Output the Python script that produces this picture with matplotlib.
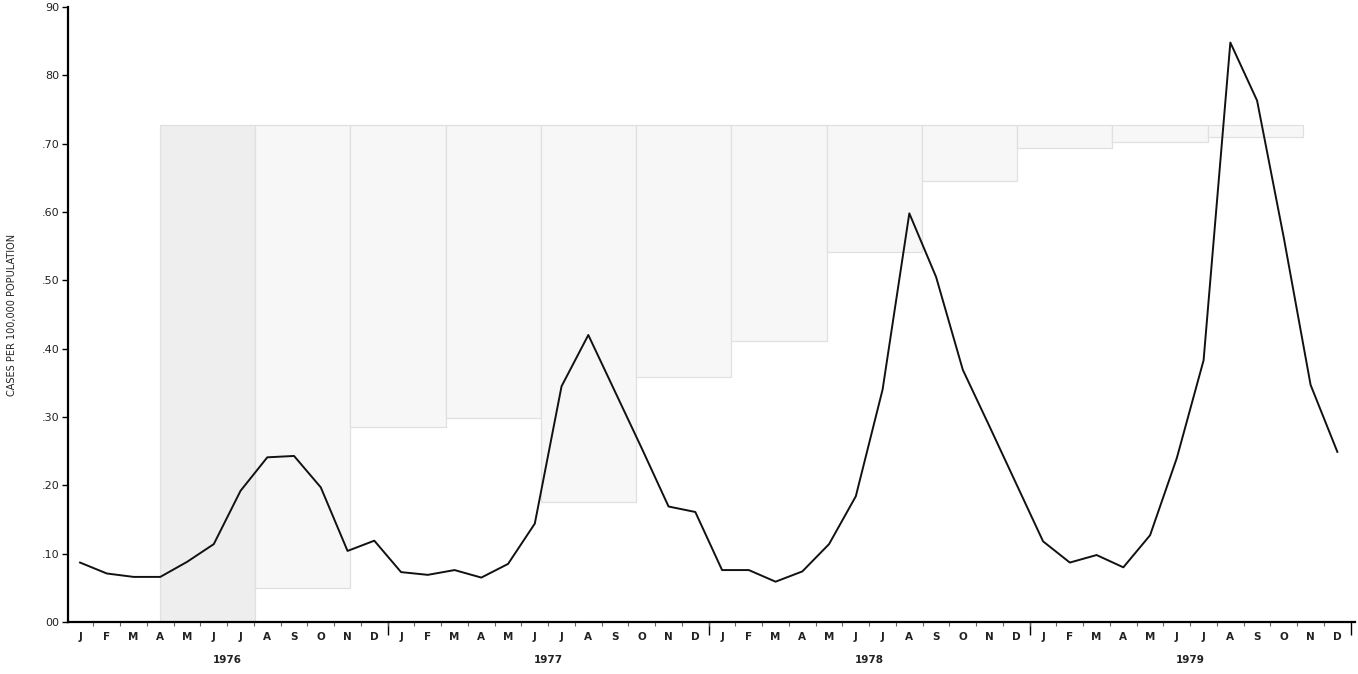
import matplotlib.pyplot as plt
import numpy as np

# Casos por 100.000 habitantes, por mes (1976-1979)
meses = ['J', 'F', 'M', 'A', 'M', 'J', 'J', 'A', 'S', 'O', 'N', 'D']
anos = ['1976', '1977', '1978', '1979']
casos_1976 = [0.087, 0.071, 0.066, 0.066, 0.088, 0.114, 0.192, 0.241, 0.243, 0.197, 0.104, 0.119]
casos_1977 = [0.073, 0.069, 0.076, 0.065, 0.085, 0.144, 0.345, 0.420, 0.337, 0.254, 0.169, 0.161]
casos_1978 = [0.076, 0.076, 0.059, 0.074, 0.114, 0.184, 0.340, 0.598, 0.505, 0.369, 0.286, 0.202]
casos_1979 = [0.118, 0.087, 0.098, 0.080, 0.127, 0.240, 0.383, 0.848, 0.763, 0.562, 0.347, 0.249]

# caixas apagadas que aparecem por transparencia do verso da pagina
fundo_inicio = 2.99
fundo_largura = 3.56
fundo_topo = 0.727
fundo_base = [0.0, 0.05, 0.285, 0.298, 0.175, 0.358, 0.411, 0.542, 0.645, 0.694, 0.703, 0.71]

y_ticks = [0, 0.1, 0.2, 0.3, 0.4, 0.5, 0.6, 0.7, 0.8, 0.9]
y_rotulos = ['00', '.10', '.20', '.30', '.40', '.50', '.60', '.70', '80', '90']

casos = casos_1976 + casos_1977 + casos_1978 + casos_1979
x = np.arange(len(casos))

fig = plt.figure(figsize=(13.58, 6.74), dpi=100)
ax = fig.add_axes([68 / 1358, 52 / 674, 1287 / 1358, 615 / 674])

# fundo (bem claro)
xs_fundo = fundo_inicio + fundo_largura * np.arange(len(fundo_base))
alturas = [fundo_topo - b for b in fundo_base]
cores = ['#eeeeee'] + ['#f7f7f7'] * (len(fundo_base) - 1)
ax.bar(xs_fundo, alturas, bottom=fundo_base, width=fundo_largura, align='edge',
       color=cores, edgecolor='#e0e0e0', linewidth=0.9, zorder=0)

ax.plot(x, casos, color='#111111', linewidth=1.4, zorder=3)

ax.set_xlim(-0.45, 47.66)
ax.set_ylim(0, 0.9)

ax.spines['top'].set_visible(False)
ax.spines['right'].set_visible(False)
ax.spines['left'].set_linewidth(1.6)
ax.spines['bottom'].set_linewidth(1.6)

ax.set_yticks(y_ticks)
ax.set_yticklabels(y_rotulos, fontsize=8, color='#222222')
ax.tick_params(axis='y', length=4, width=1, pad=2)

ax.set_xticks(x)
ax.set_xticklabels(meses * len(anos), fontsize=7.5, fontweight='bold', color='#222222')
ax.tick_params(axis='x', length=0, pad=7)
ax.set_xticks(np.arange(0.5, 47, 1), minor=True)
ax.tick_params(axis='x', which='minor', length=3, width=0.8, color='#666666')

# separadores de ano
sep = ax.secondary_xaxis('bottom')
sep.set_xticks([11.5, 23.5, 35.5, 47.5])
sep.tick_params(length=9, width=1, labelbottom=False)
sep.spines['bottom'].set_visible(False)

for i, ano in enumerate(anos):
    ax.text(12 * i + 5.5, -0.062, ano, transform=ax.get_xaxis_transform(),
            ha='center', va='center', fontsize=7.5, fontweight='bold', color='#222222')

fig.text(12 / 1358, 0.533, 'CASES PER 100,000 POPULATION', rotation=90,
         ha='center', va='center', fontsize=7, color='#222222')

plt.savefig('out.png', dpi=100)
